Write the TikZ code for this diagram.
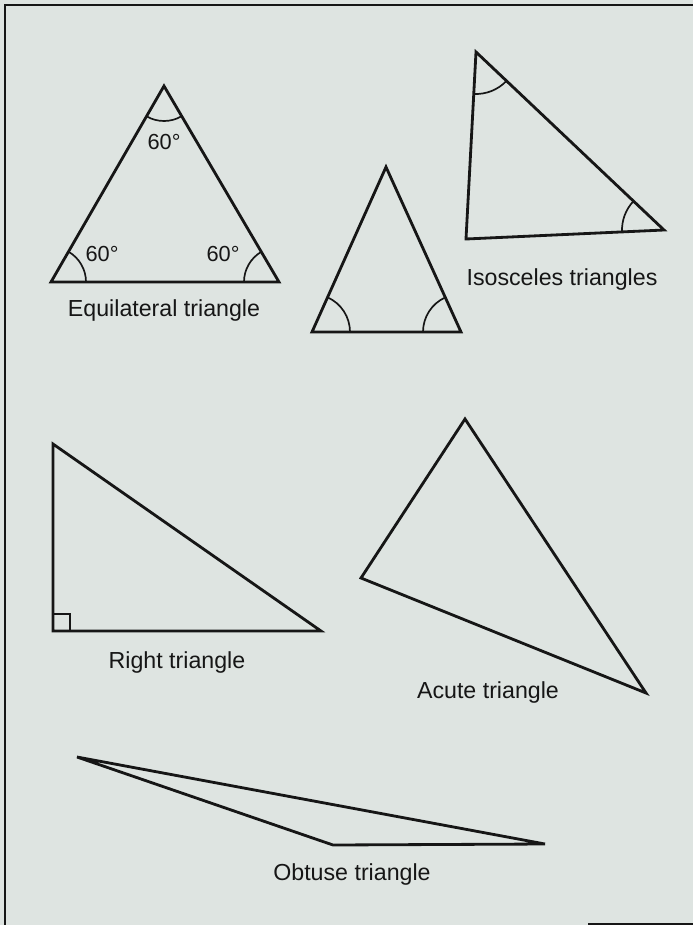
\documentclass[tikz,border=0pt]{standalone}
\usepackage{fontspec}
\setmainfont{Liberation Sans}
\usepackage{xcolor}
\usetikzlibrary{angles}
\definecolor{paper}{RGB}{222,228,225}
\definecolor{ink}{RGB}{22,22,22}
\tikzset{
  tri/.style={draw=ink,line width=2pt,line join=miter},
  ang/.style={draw=ink,line width=1.2pt},
  lbl/.style={font=\fontsize{16.5}{20}\selectfont,text=ink,inner sep=0pt},
  deg/.style={font=\fontsize{15.5}{18}\selectfont,text=ink,inner sep=0pt},
  frame/.style={draw=ink,line width=1.3pt},
}
\begin{document}
\begin{tikzpicture}[x=0.25mm,y=-0.25mm]
  \fill[paper] (0,0) rectangle (693,925);
  \useasboundingbox (0,0) rectangle (693,925);
  \draw[frame] (693,5) -- (5,5) -- (5,925);
  \draw[frame] (588,924) -- (693,924);
  % equilateral
  \coordinate (eqT) at (164,86);
  \coordinate (eqL) at (51,282);
  \coordinate (eqR) at (279,282);
  \draw[tri] (eqL) -- (eqR) -- (eqT) -- cycle;
  \pic[ang,angle radius=8.75mm] {angle=eqL--eqT--eqR};
  \pic[ang,angle radius=8.75mm] {angle=eqR--eqL--eqT};
  \pic[ang,angle radius=8.75mm] {angle=eqT--eqR--eqL};
  \node[deg] (degT) at (164,142) {60°};
  \node[deg] (degL) at (102,254) {60°};
  \node[deg] (degR) at (223,254) {60°};
  \node[lbl] (eqlabel) at (164,310) {Equilateral triangle};
  % isosceles
  \coordinate (isT) at (386,167);
  \coordinate (isL) at (312,332);
  \coordinate (isR) at (461,332);
  \draw[tri] (isL) -- (isR) -- (isT) -- cycle;
  \pic[ang,angle radius=9.5mm] {angle=isR--isL--isT};
  \pic[ang,angle radius=9.5mm] {angle=isT--isR--isL};
  \coordinate (ibT) at (476,52);
  \coordinate (ibL) at (466,239);
  \coordinate (ibR) at (664,230);
  \draw[tri] (ibL) -- (ibR) -- (ibT) -- cycle;
  \pic[ang,angle radius=10.5mm] {angle=ibL--ibT--ibR};
  \pic[ang,angle radius=10.5mm] {angle=ibT--ibR--ibL};
  \node[lbl] (islabel) at (562,279) {Isosceles triangles};
  % right
  \coordinate (rtT) at (53,444);
  \coordinate (rtL) at (53,631);
  \coordinate (rtR) at (321,631);
  \draw[tri] (rtL) -- (rtR) -- (rtT) -- cycle;
  \draw[ang] (rtL) rectangle ++(17,-17);
  \node[lbl] (rtlabel) at (177,662) {Right triangle};
  % acute
  \coordinate (acT) at (465,419);
  \coordinate (acL) at (361,578);
  \coordinate (acR) at (646,693);
  \draw[tri] (acL) -- (acR) -- (acT) -- cycle;
  \node[lbl] (aclabel) at (488,692) {Acute triangle};
  % obtuse
  \coordinate (obL) at (77,757);
  \coordinate (obM) at (333,845);
  \coordinate (obR) at (545,844);
  \draw[tri] (obL) -- (obM) -- (obR) -- cycle;
  \node[lbl] (oblabel) at (352,874) {Obtuse triangle};
\end{tikzpicture}
\end{document}
